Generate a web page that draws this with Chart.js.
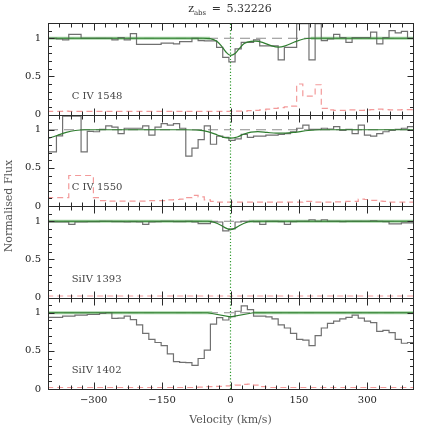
<!DOCTYPE html>
<html>
<head>
<meta charset="utf-8">
<script src="https://cdn.jsdelivr.net/npm/chart.js@4.4.1/dist/chart.umd.min.js"></script>
<style>
    html, body { margin: 0; padding: 0; background: #fff; }
    #wrap { position: relative; width: 436px; height: 436px; background: #fff; }
    #plot { position: absolute; left: 0; top: 0; }
    #title { position: absolute; top: 2px; left: 0; width: 460px; text-align: center;
             font: 11px "DejaVu Serif", serif; color: #333; word-spacing: 2px; }
    #title sub { font-size: 7px; }
    #ylabel { position: absolute; left: -91px; top: 199px; width: 200px; height: 14px; line-height: 14px;
              text-align: center; transform: rotate(-90deg); font: 11px "DejaVu Serif", serif; color: #555; }
</style>
</head>
<body>
<div id="wrap">
    <canvas id="plot" width="436" height="436"></canvas>
    <div id="title">z<sub>abs</sub> = 5.32226</div>
    <div id="ylabel">Normalised Flux</div>
</div>
<script>
// ---- Data ----------------------------------------------------------------
// pixel centres of the binned spectra, km/s
const velocity = [
    -401.75, -388.25, -374.75, -361.25, -347.75, -334.25, -320.75, -307.25, -293.75, -280.25,
    -266.75, -253.25, -239.75, -226.25, -212.75, -199.25, -185.75, -172.25, -158.75, -145.25,
    -131.75, -118.25, -104.75, -91.25, -77.75, -64.25, -50.75, -37.25, -23.75, -10.25,
    3.25, 16.75, 30.25, 43.75, 57.25, 70.75, 84.25, 97.75, 111.25, 124.75,
    138.25, 151.75, 165.25, 178.75, 192.25, 205.75, 219.25, 232.75, 246.25, 259.75,
    273.25, 286.75, 300.25, 313.75, 327.25, 340.75, 354.25, 367.75, 381.25, 394.75,
    408.25
];

// C IV 1548
const flux1548 = [
    1.00, 1.00, 0.99, 0.98, 1.05, 1.05, 1.00, 1.00, 1.00, 1.00,
    1.00, 0.98, 1.01, 0.98, 1.06, 0.92, 0.92, 0.92, 0.92, 0.935,
    0.935, 0.925, 0.955, 0.955, 1.00, 0.97, 0.965, 0.965, 0.88, 0.75,
    0.69, 0.86, 0.947, 0.947, 0.98, 0.90, 0.90, 0.90, 0.717, 0.88,
    0.88, 1.19, 1.19, 0.717, 1.19, 0.97, 0.99, 1.05, 1.01, 0.947,
    1.01, 1.01, 1.01, 1.08, 0.925, 1.01, 1.10, 1.07, 1.09, 1.00,
    1.01
];
const err1548 = [
    0.04, 0.04, 0.04, 0.045, 0.04, 0.04, 0.04, 0.04, 0.04, 0.04,
    0.04, 0.04, 0.04, 0.04, 0.04, 0.04, 0.04, 0.04, 0.04, 0.04,
    0.04, 0.04, 0.04, 0.04, 0.04, 0.04, 0.04, 0.04, 0.04, 0.04,
    0.04, 0.045, 0.045, 0.05, 0.055, 0.06, 0.07, 0.08, 0.09, 0.10,
    0.11, 0.40, 0.24, 0.24, 0.39, 0.08, 0.06, 0.055, 0.055, 0.06,
    0.06, 0.055, 0.06, 0.065, 0.07, 0.065, 0.06, 0.06, 0.065, 0.065,
    0.07
];
const modelVel1548 = [-400, -60, -45, -30, -20, -10, 0, 10, 20, 30, 45, 55, 70, 90, 105, 120, 140, 160, 175, 400];
const model1548 = [1.0, 1.0, 0.995, 0.96, 0.9, 0.82, 0.775, 0.80, 0.87, 0.93, 0.96, 0.962, 0.945, 0.90, 0.883, 0.90, 0.95, 0.99, 1.0, 1.0];
const contVel1548 = [-400, -45, -44, 175, 176, 400];
const cont1548 = [1, 1, null, null, 1, 1];

// C IV 1550
const flux1550 = [
    0.71, 0.71, 0.92, 1.18, 1.18, 1.18, 0.71, 0.98, 0.974, 1.005,
    1.05, 1.035, 0.95, 1.02, 1.02, 1.02, 1.05, 0.93, 1.035, 1.08,
    1.06, 1.08, 1.02, 0.654, 0.76, 0.87, 1.05, 0.81, 0.917, 0.90,
    0.86, 0.88, 0.94, 0.90, 0.917, 0.917, 0.93, 0.93, 0.94, 0.95,
    0.974, 1.02, 1.06, 1.005, 1.005, 1.02, 1.01, 1.04, 0.99, 1.005,
    0.95, 1.06, 0.93, 0.917, 0.95, 0.974, 0.99, 1.005, 1.02, 1.04,
    1.04
];
const err1550 = [
    0.11, 0.11, 0.11, 0.11, 0.40, 0.40, 0.40, 0.40, 0.11, 0.07,
    0.065, 0.065, 0.065, 0.065, 0.065, 0.065, 0.065, 0.07, 0.07, 0.07,
    0.08, 0.085, 0.09, 0.11, 0.14, 0.12, 0.08, 0.06, 0.05, 0.05,
    0.05, 0.05, 0.05, 0.05, 0.05, 0.05, 0.05, 0.05, 0.05, 0.05,
    0.05, 0.05, 0.06, 0.06, 0.05, 0.05, 0.05, 0.055, 0.055, 0.06,
    0.06, 0.09, 0.085, 0.075, 0.065, 0.06, 0.05, 0.05, 0.05, 0.05,
    0.05
];
const modelVel1550 = [-400, -380, -360, -340, -320, -100, -70, -50, -30, -15, 0, 15, 30, 45, 60, 80, 100, 120, 145, 170, 200, 400];
const model1550 = [0.885, 0.925, 0.965, 0.99, 1.0, 1.0, 0.995, 0.975, 0.935, 0.9, 0.89, 0.905, 0.945, 0.97, 0.975, 0.965, 0.955, 0.955, 0.97, 0.99, 1.0, 1.0];
const contVel1550 = [];
const cont1550 = [];

// SiIV 1393
const flux1393 = [
    0.99, 0.99, 0.99, 0.99, 0.96, 0.99, 0.99, 0.995, 0.995, 1.0,
    1.0, 0.995, 0.995, 0.99, 0.995, 0.99, 0.96, 0.99, 0.995, 1.0,
    1.0, 0.995, 0.995, 1.0, 0.99, 0.97, 0.97, 0.99, 0.99, 0.875,
    0.90, 0.99, 1.0, 1.0, 0.995, 0.96, 1.0, 1.0, 0.995, 0.96,
    0.995, 1.0, 1.0, 1.02, 1.0, 1.02, 1.0, 1.0, 0.995, 1.0,
    1.0, 1.0, 1.0, 1.005, 1.0, 0.995, 0.965, 0.965, 0.98, 0.98,
    0.98
];
const err1393 = [
    0.02, 0.02, 0.02, 0.02, 0.02, 0.02, 0.02, 0.02, 0.02, 0.02,
    0.02, 0.02, 0.02, 0.02, 0.02, 0.02, 0.02, 0.02, 0.02, 0.02,
    0.02, 0.02, 0.02, 0.02, 0.02, 0.02, 0.02, 0.02, 0.02, 0.02,
    0.02, 0.02, 0.02, 0.02, 0.02, 0.02, 0.02, 0.02, 0.02, 0.02,
    0.02, 0.02, 0.02, 0.02, 0.02, 0.02, 0.02, 0.02, 0.02, 0.02,
    0.02, 0.02, 0.02, 0.02, 0.02, 0.02, 0.02, 0.02, 0.02, 0.02,
    0.02
];
const modelVel1393 = [-400, -50, -35, -20, -10, 0, 10, 20, 35, 50, 400];
const model1393 = [1.0, 1.0, 0.985, 0.945, 0.91, 0.89, 0.91, 0.945, 0.985, 1.0, 1.0];
const contVel1393 = [-400, -40, -39, 39, 40, 400];
const cont1393 = [1, 1, null, null, 1, 1];

// SiIV 1402
const flux1402 = [
    0.94, 0.94, 0.94, 0.955, 0.955, 0.968, 0.968, 0.977, 0.977, 0.99,
    1.0, 0.925, 0.93, 0.955, 0.91, 0.84, 0.73, 0.65, 0.61, 0.57,
    0.46, 0.36, 0.35, 0.345, 0.31, 0.40, 0.51, 0.85, 0.935, 0.905,
    0.95, 1.02, 1.09, 1.04, 0.955, 0.955, 0.945, 0.92, 0.84, 0.80,
    0.73, 0.65, 0.64, 0.57, 0.70, 0.80, 0.86, 0.89, 0.92, 0.94,
    0.97, 0.93, 0.89, 0.87, 0.755, 0.77, 0.74, 0.65, 0.60, 0.61,
    0.61
];
const err1402 = [
    0.02, 0.02, 0.02, 0.02, 0.02, 0.02, 0.02, 0.02, 0.02, 0.02,
    0.02, 0.02, 0.02, 0.02, 0.02, 0.02, 0.02, 0.02, 0.02, 0.02,
    0.02, 0.02, 0.02, 0.02, 0.02, 0.025, 0.03, 0.03, 0.035, 0.04,
    0.04, 0.05, 0.06, 0.065, 0.05, 0.03, 0.02, 0.02, 0.02, 0.02,
    0.02, 0.02, 0.02, 0.02, 0.02, 0.02, 0.02, 0.02, 0.02, 0.02,
    0.02, 0.02, 0.02, 0.02, 0.02, 0.02, 0.02, 0.02, 0.02, 0.02,
    0.02
];
const modelVel1402 = [-400, -50, 0, 50, 400];
const model1402 = [1.0, 1.0, 0.945, 1.0, 1.0];
const contVel1402 = [-400, -40, -39, 49, 50, 400];
const cont1402 = [1, 1, null, null, 1, 1];

const xTicks = [-300, -150, 0, 150, 300];
const yTicks = [0, 0.5, 1];

// ---- Panels (top to bottom) ------------------------------------------------
const panels = [
    { id: "y1", label: "C IV 1548", flux: flux1548, err: err1548, mv: modelVel1548, m: model1548, cv: contVel1548, c: cont1548, smooth: true },
    { id: "y2", label: "C IV 1550", flux: flux1550, err: err1550, mv: modelVel1550, m: model1550, cv: contVel1550, c: cont1550, smooth: true },
    { id: "y3", label: "SiIV 1393", flux: flux1393, err: err1393, mv: modelVel1393, m: model1393, cv: contVel1393, c: cont1393, smooth: true },
    { id: "y4", label: "SiIV 1402", flux: flux1402, err: err1402, mv: modelVel1402, m: model1402, cv: contVel1402, c: cont1402, smooth: false },
];

const SERIF = '"DejaVu Serif", serif';
const pts = (xs, ys) => xs.map((x, i) => ({ x: x, y: ys[i] }));

// ---- Datasets --------------------------------------------------------------
const datasets = [];
panels.forEach((p) => {
    const base = { yAxisID: p.id, pointRadius: 0, fill: false, borderCapStyle: "butt" };
    datasets.push({ ...base, order: 1, data: pts(p.mv, p.m), borderColor: "#2f7d2f", borderWidth: 1.2,
        cubicInterpolationMode: p.smooth ? "monotone" : "default", tension: 0 });
    datasets.push({ ...base, order: 2, data: pts(velocity, p.flux), borderColor: "#707070", borderWidth: 1.2, stepped: "middle" });
    datasets.push({ ...base, order: 3, data: pts(p.cv, p.c), borderColor: "rgba(150,205,150,0.85)", borderWidth: 3, spanGaps: false });
    datasets.push({ ...base, order: 4, data: pts(velocity, p.err), borderColor: "#f39a9a", borderWidth: 1.2, stepped: "middle", borderDash: [6, 4] });
    datasets.push({ ...base, order: 5, data: [{ x: -400, y: 1 }, { x: 400, y: 1 }], borderColor: "#8c8c8c", borderWidth: 1, borderDash: [10, 6] });
    datasets.push({ ...base, order: 0, data: [{ x: 0, y: 0 }, { x: 0, y: 1.2 }], borderColor: "#2e9a2e", borderWidth: 1.2, borderDash: [1.2, 2] });
});

// ---- Scales ----------------------------------------------------------------
function yScale() {
    return {
        type: "linear", position: "left", stack: "panels", stackWeight: 1, min: 0, max: 1.2,
        afterBuildTicks: (a) => { a.ticks = yTicks.map((v) => ({ value: v })); },
        afterFit: (a) => { a.width = 48; },
        grid: { display: false, drawTicks: false },
        border: { display: false },
        ticks: { font: { family: SERIF, size: 10 }, color: "#222", padding: 7, callback: (v) => String(v) },
    };
}

const scales = {
    x: {
        type: "linear", position: "bottom", min: -400, max: 400,
        afterBuildTicks: (a) => { a.ticks = xTicks.map((v) => ({ value: v })); },
        afterFit: (a) => { a.height = 47; },
        grid: { display: false, drawTicks: false },
        border: { display: false },
        ticks: { font: { family: SERIF, size: 10 }, color: "#222", padding: 5, maxRotation: 0,
            callback: (v) => (v < 0 ? "\u2212" + Math.abs(v) : String(v)) },
        title: { display: true, text: "Velocity (km/s)", font: { family: SERIF, size: 11 }, color: "#555",
            padding: { top: 4, bottom: 9 } },
    },
};
// later-defined stacked axes sit higher up, so add bottom panel first
panels.slice().reverse().forEach((p) => { scales[p.id] = yScale(); });

// ---- Frames, inward ticks and panel labels --------------------------------
const framePlugin = {
    id: "frames",
    afterDatasetsDraw(chart) {
        const ctx = chart.ctx;
        const xs = chart.scales.x;
        const { left, right } = chart.chartArea;
        ctx.save();
        ctx.strokeStyle = "#2a2a2a";
        ctx.lineWidth = 1;
        panels.forEach((p) => {
            const ys = chart.scales[p.id];
            const top = Math.round(ys.top) + 0.5;
            const bottom = Math.round(ys.bottom) + 0.5;
            const l = Math.round(left) + 0.5;
            const r = Math.round(right) + 0.5;
            ctx.strokeRect(l, top, r - l, bottom - top);
            ctx.beginPath();
            for (let v = -400; v <= 400; v += 25) {
                const px = Math.round(xs.getPixelForValue(v)) + 0.5;
                const len = v % 150 === 0 ? 7 : 4;
                ctx.moveTo(px, bottom); ctx.lineTo(px, bottom - len);
                ctx.moveTo(px, top); ctx.lineTo(px, top + len);
            }
            for (let k = 1; k < 12; k++) {
                const py = Math.round(ys.getPixelForValue(k / 10)) + 0.5;
                const len = k % 5 === 0 ? 6 : 3.5;
                ctx.moveTo(l, py); ctx.lineTo(l + len, py);
                ctx.moveTo(r, py); ctx.lineTo(r - len, py);
            }
            ctx.stroke();

            ctx.fillStyle = "#444";
            ctx.font = "10px " + SERIF;
            ctx.textAlign = "left";
            ctx.textBaseline = "middle";
            ctx.fillText(p.label, xs.getPixelForValue(-348), ys.getPixelForValue(0.24));
        });
        ctx.restore();
    },
};

new Chart(document.getElementById("plot"), {
    type: "line",
    data: { datasets: datasets },
    options: {
        responsive: false,
        animation: false,
        devicePixelRatio: 1,
        layout: { padding: { top: 23, right: 23, bottom: 0, left: 0 } },
        plugins: { legend: { display: false }, tooltip: { enabled: false } },
        scales: scales,
    },
    plugins: [framePlugin],
});
</script>
</body>
</html>
